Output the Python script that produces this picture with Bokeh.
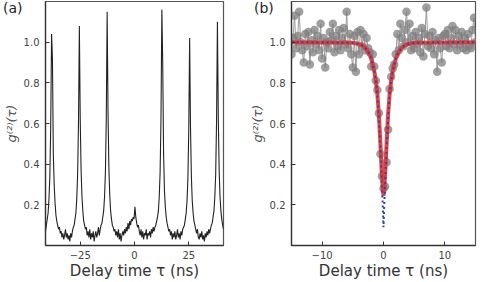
import numpy as np
from bokeh.plotting import figure
from bokeh.layouts import row
from bokeh.models import Range1d, FixedTicker
from bokeh.embed import file_html
from bokeh.resources import INLINE

# ---------------- data: panel (a) ----------------
A_T0 = -41.0      # first time bin (ns)
A_BIN = 0.4       # bin width (ns)
g2_a = [
    0.07, 0.10, 0.13, 0.16, 0.23, 0.34, 0.58, 1.04, 0.92, 0.45,
    0.30, 0.21, 0.15, 0.12, 0.10, 0.08, 0.09, 0.06, 0.07, 0.04,
    0.06, 0.03, 0.05, 0.08, 0.04, 0.06, 0.03, 0.05, 0.02, 0.06,
    0.04, 0.07, 0.09, 0.10, 0.13, 0.16, 0.23, 0.35, 0.60, 1.08,
    0.62, 0.37, 0.24, 0.17, 0.12, 0.10, 0.08, 0.09, 0.05, 0.07,
    0.04, 0.08, 0.03, 0.06, 0.04, 0.07, 0.02, 0.05, 0.07, 0.04,
    0.06, 0.09, 0.05, 0.08, 0.10, 0.11, 0.14, 0.17, 0.24, 0.36,
    0.62, 1.15, 0.66, 0.38, 0.25, 0.17, 0.13, 0.10, 0.09, 0.07,
    0.08, 0.05, 0.07, 0.04, 0.08, 0.03, 0.06, 0.02, 0.05, 0.07,
    0.05, 0.08, 0.06, 0.09, 0.07, 0.11, 0.08, 0.12, 0.10, 0.13,
    0.12, 0.14, 0.13, 0.19, 0.14, 0.11, 0.09, 0.10, 0.07, 0.05,
    0.08, 0.04, 0.07, 0.03, 0.06, 0.05, 0.08, 0.03, 0.06, 0.05,
    0.07, 0.04, 0.08, 0.06, 0.09, 0.07, 0.09, 0.10, 0.12, 0.14,
    0.17, 0.24, 0.36, 0.62, 1.16, 0.90, 0.45, 0.27, 0.19, 0.14,
    0.11, 0.09, 0.07, 0.08, 0.05, 0.07, 0.03, 0.06, 0.04, 0.07,
    0.03, 0.05, 0.08, 0.04, 0.06, 0.03, 0.07, 0.05, 0.08, 0.09,
    0.10, 0.13, 0.16, 0.22, 0.33, 0.57, 1.02, 0.58, 0.34, 0.22,
    0.16, 0.12, 0.10, 0.08, 0.06, 0.08, 0.04, 0.03, 0.06, 0.04,
    0.07, 0.03, 0.05, 0.02, 0.06, 0.04, 0.07, 0.05, 0.08, 0.06,
    0.08, 0.10, 0.11, 0.14, 0.17, 0.24, 0.35, 0.61, 1.10, 0.63,
    0.37, 0.24, 0.17, 0.13, 0.10, 0.08,
]
tau_a = A_T0 + A_BIN * np.arange(len(g2_a))

# ---------------- data: panel (b) ----------------
B_T0 = -15.0
B_BIN = 0.25
g2_b = [
    0.94, 1.02, 1.13, 0.97, 1.03, 1.15, 1.00, 0.96, 0.90, 1.04,
    0.98, 1.05, 0.89, 1.01, 0.95, 1.06, 0.99, 1.03, 0.96, 1.09,
    0.92, 1.02, 0.875, 1.00, 0.97, 1.05, 1.01, 1.09, 0.95, 1.03,
    0.98, 1.06, 0.96, 1.02, 1.07, 0.99, 1.15, 0.97, 1.04, 0.94,
    0.875, 1.03, 0.855, 1.05, 0.94, 1.06, 0.98, 1.04, 0.96, 1.02,
    0.97, 0.95, 0.88, 0.94, 0.88, 0.81, 0.765, 0.65, 0.45, 0.34,
    0.28, 0.29, 0.41, 0.57, 0.77, 0.83, 0.87, 0.89, 0.94, 1.04,
    0.96, 1.09, 1.02, 0.98, 1.06, 1.15, 1.00, 1.09, 0.96, 1.03,
    0.97, 1.05, 0.99, 1.02, 0.95, 1.07, 0.93, 1.04, 1.17, 0.98,
    1.03, 0.97, 1.05, 0.94, 1.01, 0.855, 1.02, 0.97, 0.90, 1.03,
    1.04, 0.98, 1.06, 0.97, 1.02, 1.08, 0.99, 1.06, 0.96, 1.03,
    0.99, 1.05, 0.97, 1.02, 0.96, 1.04, 0.98, 0.97, 1.06, 1.12,
    1.00,
]
tau_b = B_T0 + B_BIN * np.arange(len(g2_b))

fit_tau = [-15, -5, -4, -3.5, -3, -2.5, -2.25, -2, -1.75, -1.5, -1.25, -1, -0.75,
           -0.5, -0.3, -0.15, 0, 0.15, 0.3, 0.5, 0.75, 1, 1.25, 1.5, 1.75, 2,
           2.25, 2.5, 3, 3.5, 4, 5, 15]
fit_red = [1.0, 0.997, 0.991, 0.984, 0.973, 0.953, 0.938, 0.918, 0.891, 0.857, 0.811,
           0.745, 0.645, 0.50, 0.37, 0.29, 0.245, 0.29, 0.37, 0.50, 0.645, 0.745,
           0.811, 0.857, 0.891, 0.918, 0.938, 0.953, 0.973, 0.984, 0.991, 0.997, 1.0]
fit_blue = [1.0, 0.997, 0.991, 0.984, 0.973, 0.953, 0.938, 0.918, 0.891, 0.857, 0.811,
            0.74, 0.62, 0.47, 0.33, 0.22, 0.09, 0.22, 0.33, 0.47, 0.62, 0.74,
            0.811, 0.857, 0.891, 0.918, 0.938, 0.953, 0.973, 0.984, 0.991, 0.997, 1.0]

y_ticks = [0.2, 0.4, 0.6, 0.8, 1.0]
y_tick_labels = ["0.2", "0.4", "0.6", "0.8", "1.0"]
xa_ticks = [-25, 0, 25]
xa_tick_labels = ["\u221225", "0", "25"]
xb_ticks = [-10, 0, 10]
xb_tick_labels = ["\u221210", "0", "10"]
panel_tags = ["(a)", "(b)"]

FONT = "DejaVu Sans"
XLABEL = "Delay time \u03c4 (ns)"
YLABEL = "g\u207d\u00b2\u207e(\u03c4)"


def style(p, xt, xl):
    p.xgrid.visible = False
    p.ygrid.visible = False
    p.outline_line_color = "#555555"
    p.outline_line_width = 1.2
    p.background_fill_color = "white"
    p.border_fill_color = "white"
    for ax in (p.xaxis[0], p.yaxis[0]):
        ax.axis_line_color = "#333333"
        ax.axis_line_width = 1.3
        ax.major_tick_in = 4
        ax.major_tick_out = 0
        ax.major_tick_line_color = "#333333"
        ax.minor_tick_line_color = None
        ax.major_label_text_font = FONT
        ax.major_label_text_font_size = "10px"
        ax.major_label_text_color = "#444444"
        ax.axis_label_text_font = FONT
        ax.axis_label_text_color = "#333333"
    p.xaxis[0].ticker = FixedTicker(ticks=xt)
    p.xaxis[0].major_label_overrides = {t: s for t, s in zip(xt, xl)}
    p.yaxis[0].ticker = FixedTicker(ticks=y_ticks)
    p.yaxis[0].major_label_overrides = {t: s for t, s in zip(y_ticks, y_tick_labels)}
    p.xaxis[0].axis_label = XLABEL
    p.xaxis[0].axis_label_text_font_size = "15px"
    p.xaxis[0].axis_label_text_font_style = "normal"
    p.xaxis[0].major_label_standoff = 5
    p.xaxis[0].axis_label_standoff = 0
    p.yaxis[0].axis_label = YLABEL
    p.yaxis[0].axis_label_text_font_size = "13px"
    p.yaxis[0].axis_label_text_font_style = "italic"
    p.yaxis[0].axis_label_text_color = "#555555"
    p.yaxis[0].major_label_standoff = 6
    p.yaxis[0].axis_label_standoff = 2


# ---------------- panel (a) ----------------
pa = figure(width=241, height=282, output_backend="svg", toolbar_location=None,
            x_range=Range1d(-41, 41), y_range=Range1d(0, 1.2),
            min_border_left=39, min_border_right=18, min_border_top=1, min_border_bottom=36)
style(pa, xa_ticks, xa_tick_labels)
pa.line(tau_a, g2_a, line_color="#222222", line_width=1.1)

# ---------------- panel (b) ----------------
pb = figure(width=241, height=282, output_backend="svg", toolbar_location=None,
            x_range=Range1d(-15, 15), y_range=Range1d(0, 1.2),
            min_border_left=50, min_border_right=7, min_border_top=1, min_border_bottom=36)
style(pb, xb_ticks, xb_tick_labels)
pb.line(tau_b, g2_b, line_color="#9a9a9a", line_width=1)
pb.scatter(tau_b, g2_b, size=8.5, fill_color="#7f7f7f", fill_alpha=0.75, line_color=None)
pb.line(fit_tau, fit_red, line_color="#e8312f", line_width=4, line_alpha=0.9)
pb.line(fit_tau, fit_blue, line_color="#2a4aa8", line_width=2, line_dash="2 3")

layout = row(pa, pb)

# panel tags sit outside the plot frames (annotations there are clipped),
# so they are placed as page text over the canvases
tag_style = ("position:absolute;top:1px;line-height:15px;font-family:'DejaVu Sans';"
             "font-size:14px;color:#222222;z-index:10;")
TEMPLATE = (
    "{% block inner_body %}"
    f"<div style=\"{tag_style}left:3px;\">{panel_tags[0]}</div>"
    f"<div style=\"{tag_style}left:254px;\">{panel_tags[1]}</div>"
    "{{ super() }}"
    "{% endblock %}"
)
open("out.html", "w").write(file_html(layout, INLINE, template=TEMPLATE))
